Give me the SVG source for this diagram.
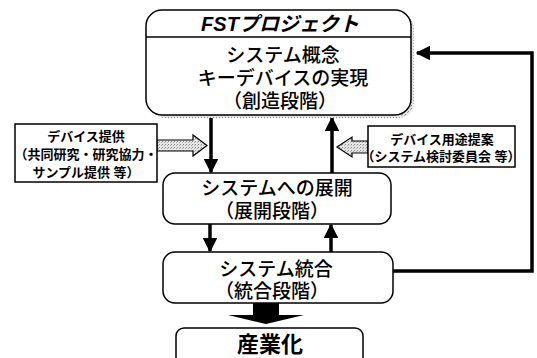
<svg xmlns="http://www.w3.org/2000/svg" width="537" height="358" viewBox="0 0 537 358">
<defs>
<marker id="ah" viewBox="0 0 10 10" refX="9" refY="5" markerWidth="4.2" markerHeight="4.2" orient="auto" markerUnits="strokeWidth">
<path d="M0,0 L10,5 L0,10 z" fill="#000"/>
</marker>
<pattern id="dots" width="3" height="3" patternUnits="userSpaceOnUse">
<rect width="3" height="3" fill="#e6e6e6"/>
<rect width="1" height="1" fill="#888"/>
<rect x="2" y="1" width="1" height="1" fill="#aaa"/>
</pattern>
</defs>
<style>
.box{fill:#fff;stroke:#000;stroke-width:1.5}
.shadow{fill:url(#dots)}
.t{font-family:"Liberation Sans","Noto Sans CJK JP","Noto Sans CJK SC",sans-serif;text-anchor:middle;fill:#000}
.big{font-size:19px;font-weight:500}
.small{font-size:13px;font-weight:700}
.conn{stroke:#000;stroke-width:3.5;fill:none}
.hollow{fill:url(#dots);stroke:#000;stroke-width:1.2}
</style>
<rect width="537" height="358" fill="#fff"/>

<g id="connectors">
<line class="conn" x1="211" y1="118" x2="211" y2="172" marker-end="url(#ah)"/>
<line class="conn" x1="332" y1="173" x2="332" y2="118" marker-end="url(#ah)"/>
<line class="conn" x1="210" y1="224" x2="210" y2="251" marker-end="url(#ah)"/>
<line class="conn" x1="331" y1="252" x2="331" y2="225" marker-end="url(#ah)"/>
<polyline class="conn" points="393,271 532,271 532,53 417,53" marker-end="url(#ah)"/>
<polygon class="hollow" points="157,140 193,140 193,135 207,145.5 193,156 193,151 157,151"/>
<polygon class="hollow" points="368,141 352,141 352,137 337,147 352,157 352,153 368,153"/>
<polygon fill="#000" points="253,303 279,303 279,315 304,315 266,324 228,315 253,315"/>
</g>

<g id="node-fst">
<rect class="shadow" x="149" y="13" width="265" height="105" rx="16"/>
<rect class="box" x="146" y="10" width="265" height="105" rx="16"/>
<line x1="146" y1="37" x2="411" y2="37" stroke="#000" stroke-width="1.5"/>
<text class="t" x="280" y="31" font-size="20" font-style="italic" font-weight="700">FSTプロジェクト</text>
<text class="t big" x="283" y="62">システム概念</text>
<text class="t big" x="283" y="85">キーデバイスの実現</text>
<text class="t big" x="280" y="108">（創造段階）</text>
</g>

<g id="node-provide">
<rect class="box" x="15" y="124" width="142" height="58"/>
<text class="t small" x="86" y="141">デバイス提供</text>
<text class="t small" x="86" y="159">（共同研究・研究協力・</text>
<text class="t small" x="86" y="177">サンプル提供 等）</text>
</g>

<g id="node-propose">
<rect class="box" x="368" y="126" width="147" height="41"/>
<text class="t small" x="442" y="144">デバイス用途提案</text>
<text class="t small" x="441" y="161">（システム検討委員会 等）</text>
</g>

<g id="node-deploy">
<rect class="box" x="163" y="173" width="228" height="51" rx="12"/>
<text class="t big" x="277" y="195">システムへの展開</text>
<text class="t big" x="272" y="218">（展開段階）</text>
</g>

<g id="node-integrate">
<rect class="box" x="163" y="252" width="230" height="51" rx="12"/>
<text class="t big" x="276" y="276">システム統合</text>
<text class="t big" x="272" y="298">（統合段階）</text>
</g>

<g id="node-industry">
<rect class="box" x="176" y="328" width="187" height="40" rx="8"/>
<text class="t" x="270" y="352" font-size="22" font-weight="700">産業化</text>
</g>
</svg>
